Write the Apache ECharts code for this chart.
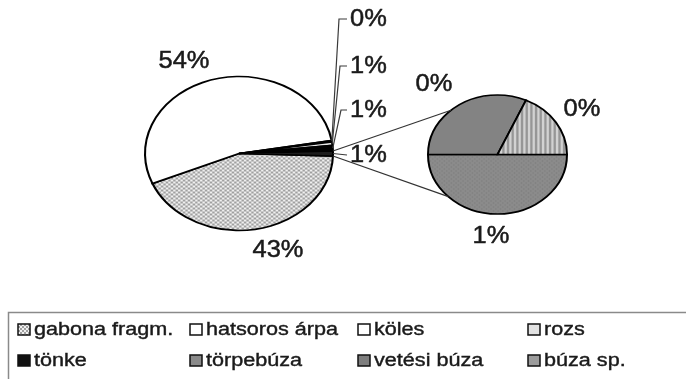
<!DOCTYPE html>
<html>
<head>
<meta charset="utf-8">
<script src="https://cdn.jsdelivr.net/npm/echarts@6/dist/echarts.min.js"></script>
<style>
  html, body { margin: 0; padding: 0; background: #fff; }
  #chart { width: 686px; height: 379px; }
</style>
</head>
<body>
<div id="chart"></div>
<script>
// Grain finds, share of total (%). Main pie, clockwise from just below 3 o'clock.
const mainNames  = ['gabona fragm.', 'hatsoros árpa', 'köles', 'rozs', 'tönke'];
const mainValues = [43.1, 53.7, 0.3, 0.7, 1.16];
// Wheat types, gathered into one slice of the main pie and split out in the small pie.
const subNames  = ['törpebúza', 'vetési búza', 'búza sp.'];
const subValues = [0.52, 0.33, 0.19];
// Legend rows, left to right
const legendNames = ['gabona fragm.', 'hatsoros árpa', 'köles', 'rozs',
                     'tönke', 'törpebúza', 'vetési búza', 'búza sp.'];

const TAU = Math.PI * 2;
const sum = a => a.reduce((s, v) => s + v, 0);
const otherValue = sum(subValues);
const grand = sum(mainValues) + otherValue;
const pct = v => Math.round(v / grand * 100) + '%';

// ---- fills --------------------------------------------------------------
function makePattern(w, h, draw) {
  const c = document.createElement('canvas');
  c.width = w; c.height = h;
  draw(c.getContext('2d'));
  return { image: c, repeat: 'repeat' };
}
const dotFill = makePattern(4, 4, ctx => {
  ctx.fillStyle = '#f0f0f0'; ctx.fillRect(0, 0, 4, 4);
  ctx.fillStyle = '#a0a0a0'; ctx.fillRect(0, 0, 2, 2); ctx.fillRect(2, 2, 2, 2);
});
const hatchFill = makePattern(4, 4, ctx => {
  ctx.fillStyle = '#d2d2d2'; ctx.fillRect(0, 0, 4, 4);
  ctx.fillStyle = '#969696'; ctx.fillRect(0, 0, 2, 4);
});
const greyFill = makePattern(4, 4, ctx => {
  ctx.fillStyle = '#8b8b8b'; ctx.fillRect(0, 0, 4, 4);
  ctx.fillStyle = '#7a7a7a'; ctx.fillRect(0, 0, 1, 1); ctx.fillRect(2, 2, 1, 1);
});
const sliceFill = {
  'gabona fragm.': dotFill, 'hatsoros árpa': '#ffffff', 'köles': '#ffffff',
  'rozs': '#e8e8e8', 'tönke': '#000000', 'other': '#1c1c1c',
  'törpebúza': greyFill, 'vetési búza': '#838383', 'búza sp.': hatchFill
};
const iconFill = {
  'gabona fragm.': dotFill, 'hatsoros árpa': '#ffffff', 'köles': '#ffffff',
  'rozs': '#e2e2e2', 'tönke': '#111111', 'törpebúza': '#8a8a8a',
  'vetési búza': '#7e7e7e', 'búza sp.': '#9c9c9c'
};
const INK = '#1a1a1a';

// ---- geometry of the two (elliptical) pies ------------------------------
const mainPie = { cx: 239, cy: 153.5, rx: 94, ry: 77 };
const subPie  = { cx: 497.5, cy: 154.5, rx: 69.5, ry: 59.5 };
const edge = (p, a) => [p.cx + p.rx * Math.cos(a), p.cy + p.ry * Math.sin(a)];

// main pie rows: [startAngle, endAngle, index]; last row is the wheat group
const mainRows = [];
let ang = otherValue / grand * Math.PI;
mainValues.forEach((v, i) => {
  const d = v / grand * TAU;
  mainRows.push([ang, ang + d, i]);
  ang += d;
});
mainRows.push([ang, ang + otherValue / grand * TAU, mainValues.length]);
const otherRow = mainRows[mainRows.length - 1];

const subRows = [];
ang = 0;
subValues.forEach((v, i) => {
  const d = v / otherValue * TAU;
  subRows.push([ang, ang + d, i]);
  ang += d;
});

// label placement
const FONT_PCT = '24px "Liberation Sans", Arial, sans-serif';
const mainLabelLayout = [
  { x: 278, y: 250, align: 'center' },
  { x: 184, y: 61,  align: 'center' },
  { x: 350, y: 19,  align: 'left', bend: [[339, 19], [347, 19]] },
  { x: 350, y: 66,  align: 'left', bend: [[340, 66], [347, 66]] },
  { x: 350, y: 110, align: 'left', bend: [[341, 110], [347, 110]] },
  { x: 350, y: 155, align: 'left', bend: [[347, 155]] }
];
const subLabelLayout = [
  { x: 491, y: 236, align: 'center' },
  { x: 434, y: 84,  align: 'center' },
  { x: 582, y: 109, align: 'center' }
];

function sliceGroup(pie, start, end, fill, label, layout) {
  const children = [{
    type: 'sector',
    x: pie.cx, y: pie.cy,
    scaleX: pie.rx / pie.ry, scaleY: 1,
    shape: { cx: 0, cy: 0, r0: 0, r: pie.ry, startAngle: start, endAngle: end, clockwise: true },
    style: { fill: fill, stroke: '#000', lineWidth: 1.7 }
  }];
  if (layout.bend) {
    const mid = (start + end) / 2;
    children.push({
      type: 'polyline',
      shape: { points: [edge(pie, mid)].concat(layout.bend) },
      style: { stroke: '#3a3a3a', lineWidth: 1.2, fill: null }
    });
  }
  children.push({
    type: 'text',
    x: layout.x, y: layout.y,
    scaleX: 1.06,
    style: {
      text: label, font: FONT_PCT, fill: INK,
      stroke: INK, lineWidth: 0.5,
      textAlign: layout.align, textVerticalAlign: 'middle'
    }
  });
  return { type: 'group', children: children };
}

// ---- legend --------------------------------------------------------------
const legendCols = [18, 190, 358, 528];
const legendRows = [329, 360];
const legendGraphics = [{
  type: 'rect',
  shape: { x: 8.5, y: 312.5, width: 700, height: 80 },
  style: { fill: '#fff', stroke: '#8a8a8a', lineWidth: 1.5 },
  z: 0
}];
legendNames.forEach((name, i) => {
  const cx = legendCols[i % 4], cy = legendRows[Math.floor(i / 4)];
  legendGraphics.push({
    type: 'rect',
    shape: { x: cx, y: cy - 5, width: 12, height: 11 },
    style: { fill: iconFill[name], stroke: '#111', lineWidth: 1.5 },
    z: 1
  });
  legendGraphics.push({
    type: 'text',
    x: cx + 16, y: cy + 1,
    scaleX: 1.2,
    style: {
      text: name, font: '18px "Liberation Sans", Arial, sans-serif', fill: INK,
      stroke: INK, lineWidth: 0.4,
      textAlign: 'left', textVerticalAlign: 'middle'
    },
    z: 1
  });
});

// connector lines from the wheat slice of the main pie to the small pie
const connectors = [
  { from: edge(mainPie, otherRow[0]), to: edge(subPie, 228 / 180 * Math.PI) },
  { from: edge(mainPie, otherRow[1]), to: edge(subPie, 135 / 180 * Math.PI) }
].map(c => ({
  type: 'line',
  shape: { x1: c.from[0], y1: c.from[1], x2: c.to[0], y2: c.to[1] },
  style: { stroke: '#333', lineWidth: 1.2 },
  z: 5
}));

const chart = echarts.init(document.getElementById('chart'), null, { renderer: 'canvas' });
chart.setOption({
  animation: false,
  backgroundColor: '#fff',
  graphic: { elements: legendGraphics.concat(connectors) },
  series: [
    {
      type: 'custom',
      name: 'main',
      coordinateSystem: 'none',
      data: mainRows,
      z: 3,
      renderItem: (params, api) => {
        const i = api.value(2);
        const isOther = i === mainValues.length;
        const name = isOther ? 'other' : mainNames[i];
        const v = isOther ? otherValue : mainValues[i];
        return sliceGroup(mainPie, api.value(0), api.value(1), sliceFill[name], pct(v), mainLabelLayout[i]);
      }
    },
    {
      type: 'custom',
      name: 'sub',
      coordinateSystem: 'none',
      data: subRows,
      z: 3,
      renderItem: (params, api) => {
        const i = api.value(2);
        return sliceGroup(subPie, api.value(0), api.value(1), sliceFill[subNames[i]], pct(subValues[i]), subLabelLayout[i]);
      }
    }
  ]
});
</script>
</body>
</html>
